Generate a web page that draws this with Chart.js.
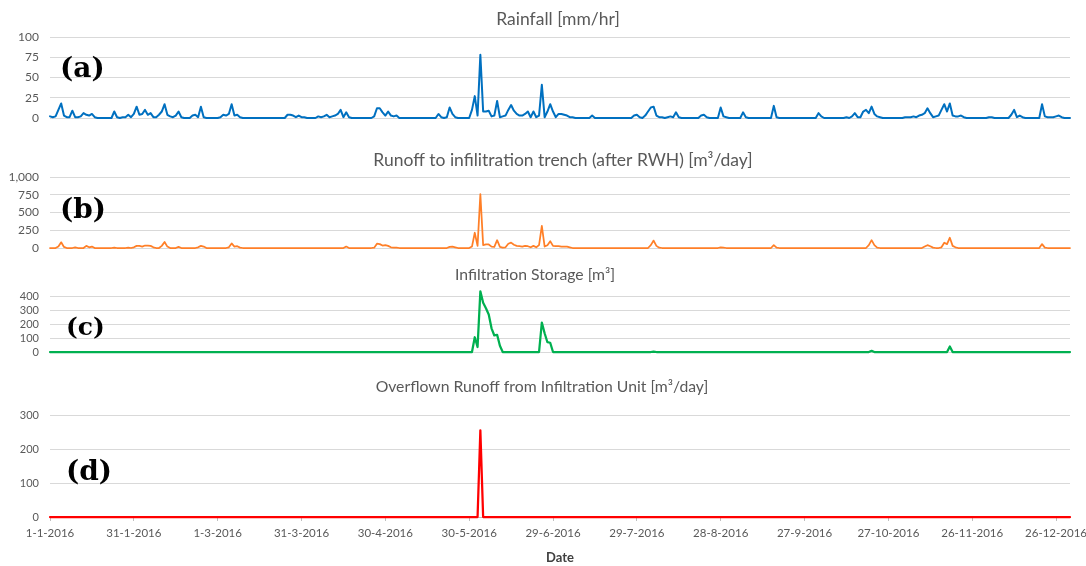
<!DOCTYPE html>
<html>
<head>
<meta charset="utf-8">
<title>Rainfall, runoff and infiltration storage 2016</title>
<script src="https://cdn.jsdelivr.net/npm/chart.js@4.4.1/dist/chart.umd.min.js"></script>
<style>
  html, body { margin: 0; padding: 0; background: #fff; }
  #wrap { position: relative; width: 1086px; height: 566px; overflow: hidden; background: #fff; }
  #wrap canvas { position: absolute; left: 0; }
</style>
</head>
<body>
<div id="wrap">
  <canvas id="panelA"></canvas>
  <canvas id="panelB"></canvas>
  <canvas id="panelC"></canvas>
  <canvas id="panelD"></canvas>
</div>
<script>
/* ===== data : one value per day, 1-1-2016 .. 31-12-2016 (366 days) ===== */

// (a) rainfall [mm/hr]
const rainfall = [
  2,1,2,10,18,3,1,1,9,1, 1,2,6,4,3,5,1,0,0,0, 0,0,0,8,1,0,1,1,4,1, 5,           // Jan
  14,4,5,10,4,6,1,1,4,8, 17,4,2,1,3,8,1,0,0,0, 3,4,1,14,1,0,0,0,0,             // Feb
  0,1,4,3,5,17,3,4,1,0, 0,0,0,0,0,0,0,0,0,0, 0,0,0,0,0,4,4,3,1,3, 1,           // Mar
  1,0,0,0,0,2,1,2,4,1, 2,3,5,10,1,7,1,0,0,0, 0,0,0,0,0,2,12,12,7,3,            // Apr
  8,3,2,3,0,0,0,0,0,0, 0,0,0,0,0,0,0,0,5,1, 0,1,13,5,1,0,0,0,0,0, 10,          // May
  27,3,78,8,8,9,2,3,21,1, 2,3,10,16,9,5,3,3,5,8, 1,8,1,3,41,1,8,17,8,1,        // Jun
  5,5,4,3,1,1,0,0,0,0, 0,0,3,0,0,0,0,0,0,0, 0,0,0,0,0,0,0,3,4,1, 0,            // Jul
  3,8,13,14,3,1,1,0,1,2, 1,7,1,0,0,0,0,0,0,0, 3,4,1,0,0,0,0,13,2,1, 0,         // Aug
  0,0,0,0,7,1,0,0,0,0, 0,0,0,0,0,15,1,0,0,0, 0,0,0,0,0,0,0,0,0,0,              // Sep
  0,6,2,0,0,0,0,0,0,0, 0,1,0,2,6,1,1,8,10,6, 14,5,2,1,0,0,0,0,0,0, 0,          // Oct
  0,1,1,1,2,1,3,4,6,12, 6,1,2,3,10,17,8,18,3,2, 2,3,1,0,0,0,0,0,0,0,           // Nov
  0,1,1,0,0,0,0,0,0,4, 10,1,3,1,0,0,0,0,0,0, 17,2,1,1,1,2,3,1,0,0, 0           // Dec
];

// (b) runoff to infiltration trench after RWH [m3/day]
const runoff = [
  0,0,0,20,80,15,0,0,0,10, 0,0,0,30,10,20,0,0,0,0, 0,0,0,5,0,0,0,0,5,0, 10,                     // Jan
  30,30,20,35,35,30,10,0,0,30, 85,20,0,0,0,15,0,0,0,0, 0,0,10,30,20,0,0,0,0,                    // Feb
  0,0,0,0,10,65,20,25,5,0, 0,0,0,0,0,0,0,0,0,0, 0,0,0,0,0,0,0,0,0,0, 0,                         // Mar
  0,0,0,0,0,0,0,0,0,0, 0,0,0,0,0,20,0,0,0,0, 0,0,0,0,0,5,60,55,35,40,                           // Apr
  30,10,5,5,0,0,0,0,0,0, 0,0,0,0,0,0,0,0,0,0, 0,0,15,20,10,0,0,0,0,0, 20,                       // May
  215,30,760,40,50,50,20,15,110,15, 5,10,60,75,45,30,25,20,30,25, 10,30,10,40,310,20,40,95,30,25, // Jun
  25,20,20,20,10,0,0,0,0,0, 0,0,0,0,0,0,0,0,0,0, 0,0,0,0,0,0,0,0,0,0, 0,                        // Jul
  0,0,40,105,30,5,0,0,0,0, 0,0,0,0,0,0,0,0,0,0, 0,0,0,0,0,0,0,10,5,0, 0,                        // Aug
  0,0,0,0,0,0,0,0,0,0, 0,0,0,0,0,40,5,0,0,0, 0,0,0,0,0,0,0,0,0,0,                               // Sep
  0,0,0,0,0,0,0,0,0,0, 0,0,0,0,0,0,0,0,0,40, 110,40,5,0,0,0,0,0,0,0, 0,                         // Oct
  0,0,0,0,0,0,0,0,20,40, 25,5,0,0,10,75,55,145,30,10, 0,0,0,0,0,0,0,0,0,0,                      // Nov
  0,0,0,0,0,0,0,0,0,0, 0,0,0,0,0,0,0,0,0,0, 55,5,0,0,0,0,0,0,0,0, 0                             // Dec
];

// (c) infiltration storage [m3]
const storage = [
  0,0,0,0,0,0,0,0,0,0, 0,0,0,0,0,0,0,0,0,0, 0,0,0,0,0,0,0,0,0,0, 0,                             // Jan
  0,0,0,0,0,0,0,0,0,0, 0,0,0,0,0,0,0,0,0,0, 0,0,0,0,0,0,0,0,0,                                  // Feb
  0,0,0,0,0,0,0,0,0,0, 0,0,0,0,0,0,0,0,0,0, 0,0,0,0,0,0,0,0,0,0, 0,                             // Mar
  0,0,0,0,0,0,0,0,0,0, 0,0,0,0,0,0,0,0,0,0, 0,0,0,0,0,0,0,0,0,0,                                // Apr
  0,0,0,0,0,0,0,0,0,0, 0,0,0,0,0,0,0,0,0,0, 0,0,0,0,0,0,0,0,0,0, 0,                             // May
  107,36,440,357,318,272,172,120,125,45, 0,0,0,0,0,0,0,0,0,0, 0,0,0,0,214,136,71,67,0,0,        // Jun
  0,0,0,0,0,0,0,0,0,0, 0,0,0,0,0,0,0,0,0,0, 0,0,0,0,0,0,0,0,0,0, 0,                             // Jul
  0,0,0,3,0,0,0,0,0,0, 0,0,0,0,0,0,0,0,0,0, 0,0,0,0,0,0,0,0,0,0, 0,                             // Aug
  0,0,0,0,0,0,0,0,0,0, 0,0,0,0,0,0,0,0,0,0, 0,0,0,0,0,0,0,0,0,0,                                // Sep
  0,0,0,0,0,0,0,0,0,0, 0,0,0,0,0,0,0,0,0,0, 8,0,0,0,0,0,0,0,0,0, 0,                             // Oct
  0,0,0,0,0,0,0,0,0,0, 0,0,0,0,0,0,0,40,0,0, 0,0,0,0,0,0,0,0,0,0,                               // Nov
  0,0,0,0,0,0,0,0,0,0, 0,0,0,0,0,0,0,0,0,0, 0,0,0,0,0,0,0,0,0,0, 0                              // Dec
];

// (d) overflown runoff from infiltration unit [m3/day]
const overflow = [
  0,0,0,0,0,0,0,0,0,0, 0,0,0,0,0,0,0,0,0,0, 0,0,0,0,0,0,0,0,0,0, 0,                             // Jan
  0,0,0,0,0,0,0,0,0,0, 0,0,0,0,0,0,0,0,0,0, 0,0,0,0,0,0,0,0,0,                                  // Feb
  0,0,0,0,0,0,0,0,0,0, 0,0,0,0,0,0,0,0,0,0, 0,0,0,0,0,0,0,0,0,0, 0,                             // Mar
  0,0,0,0,0,0,0,0,0,0, 0,0,0,0,0,0,0,0,0,0, 0,0,0,0,0,0,0,0,0,0,                                // Apr
  0,0,0,0,0,0,0,0,0,0, 0,0,0,0,0,0,0,0,0,0, 0,0,0,0,0,0,0,0,0,0, 0,                             // May
  0,0,255,0,0,0,0,0,0,0, 0,0,0,0,0,0,0,0,0,0, 0,0,0,0,0,0,0,0,0,0,                              // Jun
  0,0,0,0,0,0,0,0,0,0, 0,0,0,0,0,0,0,0,0,0, 0,0,0,0,0,0,0,0,0,0, 0,                             // Jul
  0,0,0,0,0,0,0,0,0,0, 0,0,0,0,0,0,0,0,0,0, 0,0,0,0,0,0,0,0,0,0, 0,                             // Aug
  0,0,0,0,0,0,0,0,0,0, 0,0,0,0,0,0,0,0,0,0, 0,0,0,0,0,0,0,0,0,0,                                // Sep
  0,0,0,0,0,0,0,0,0,0, 0,0,0,0,0,0,0,0,0,0, 0,0,0,0,0,0,0,0,0,0, 0,                             // Oct
  0,0,0,0,0,0,0,0,0,0, 0,0,0,0,0,0,0,0,0,0, 0,0,0,0,0,0,0,0,0,0,                                // Nov
  0,0,0,0,0,0,0,0,0,0, 0,0,0,0,0,0,0,0,0,0, 0,0,0,0,0,0,0,0,0,0, 0                              // Dec
];

// x categories: every day of 2016 as d-m-yyyy, a label shown every 30 days
const dates = [];
for (let d = new Date(2016, 0, 1); d.getFullYear() === 2016; d.setDate(d.getDate() + 1)) {
  dates.push(d.getDate() + '-' + (d.getMonth() + 1) + '-' + d.getFullYear());
}
const tickEvery = 30;

/* ===== layout ===== */
const PAGE_W = 1086;
const PLOT_LEFT = 50;    // left edge of every plot area
const PLOT_RIGHT = 1070; // right edge of every plot area

// panel title + (a)/(b)... letter
const panelText = {
  id: 'panelText',
  afterDraw(chart, args, o) {
    const ctx = chart.ctx;
    ctx.save();
    ctx.textBaseline = 'alphabetic';
    ctx.textAlign = 'center';
    ctx.fillStyle = '#595959';
    ctx.font = o.titleSize + 'px Lato';
    ctx.fillText(o.title, o.titleX, o.titleY);
    ctx.textAlign = 'left';
    ctx.fillStyle = '#000';
    ctx.font = 'bold ' + o.letterSize + 'px "DejaVu Serif"';
    ctx.fillText(o.letter, o.letterX, o.letterY);
    ctx.restore();
  }
};

function makePanel(cfg) {
  const canvas = document.getElementById(cfg.id);
  canvas.width = PAGE_W;
  canvas.height = cfg.height;
  canvas.style.top = cfg.top + 'px';
  const showX = !!cfg.xTitle;

  return new Chart(canvas, {
    type: 'line',
    data: {
      labels: dates,
      datasets: [{
        data: cfg.values,
        borderColor: cfg.color,
        borderWidth: cfg.lineWidth,
        borderJoinStyle: 'round',
        borderCapStyle: 'round',
        pointRadius: 0,
        tension: 0,
        fill: false,
        clip: 6   // keep the full stroke of the zero line visible
      }]
    },
    options: {
      responsive: false,
      animation: false,
      devicePixelRatio: 1,
      layout: { padding: { top: cfg.padTop, bottom: cfg.padBottom, left: 0, right: PAGE_W - PLOT_RIGHT } },
      plugins: {
        legend: { display: false },
        tooltip: { enabled: false },
        panelText: cfg.text
      },
      scales: {
        x: {
          type: 'category',
          display: showX,
          offset: false,
          grid: {
            drawOnChartArea: false,
            drawTicks: true,
            tickLength: 4,
            color: c => (c.index % tickEvery === 0 ? '#BFBFBF' : 'rgba(0,0,0,0)')
          },
          border: { display: true, color: '#BFBFBF' },
          ticks: {
            autoSkip: false,
            maxRotation: 0,
            minRotation: 0,
            padding: 5,
            color: '#595959',
            font: { family: 'Lato', size: 11.5 },
            callback: function (v, i) { return i % tickEvery === 0 ? this.getLabelForValue(v) : ''; }
          },
          title: {
            display: showX,
            text: cfg.xTitle,
            color: '#404040',
            font: { family: 'Lato', size: 13, weight: 'bold' },
            padding: 0
          },
          afterFit: s => { if (showX) s.height = cfg.xHeight; }
        },
        y: {
          min: 0,
          max: cfg.yMax,
          bounds: 'data',
          grid: { color: '#D9D9D9', drawTicks: false },
          border: { display: false },
          ticks: {
            stepSize: cfg.yStep,
            autoSkip: false,
            padding: 11,
            color: '#595959',
            font: { family: 'Lato', size: cfg.yFont },
            callback: v => v.toLocaleString('en-US')
          },
          // only whole steps get a label and a gridline (storage panel tops out above 400)
          afterBuildTicks: s => { s.ticks = s.ticks.filter(t => t.value % cfg.yStep === 0); },
          // fixed axis width so all four plots line up; plot height set by layout padding only
          afterFit: s => { s.width = PLOT_LEFT; s.paddingTop = 0; s.paddingBottom = 0; }
        }
      }
    },
    plugins: [panelText]
  });
}

makePanel({
  id: 'panelA', top: 0, height: 132, padTop: 37, padBottom: 14,
  values: rainfall, color: '#0070C0', lineWidth: 2,
  yMax: 100, yStep: 25, yFont: 12,
  text: { title: 'Rainfall [mm/hr]', titleSize: 17.5, titleX: 558, titleY: 25,
          letter: '(a)', letterSize: 28, letterX: 60, letterY: 77 }
});

makePanel({
  id: 'panelB', top: 132, height: 126, padTop: 45, padBottom: 10,
  values: runoff, color: '#FF7F27', lineWidth: 1.75,
  yMax: 1000, yStep: 250, yFont: 12,
  text: { title: 'Runoff to infilitration trench (after RWH) [m³/day]', titleSize: 17.5, titleX: 563, titleY: 34,
          letter: '(b)', letterSize: 28, letterX: 60, letterY: 86 }
});

makePanel({
  id: 'panelC', top: 258, height: 108, padTop: 32, padBottom: 14,
  values: storage, color: '#00B050', lineWidth: 2.25,
  yMax: 450, yStep: 100, yFont: 11,
  text: { title: 'Infiltration Storage [m³]', titleSize: 15.75, titleX: 535, titleY: 22,
          letter: '(c)', letterSize: 25, letterX: 66, letterY: 77 }
});

makePanel({
  id: 'panelD', top: 366, height: 200, padTop: 49, padBottom: 0, xHeight: 49,
  values: overflow, color: '#FF0000', lineWidth: 2.25,
  yMax: 300, yStep: 100, yFont: 11, xTitle: 'Date',
  text: { title: 'Overflown Runoff from Infiltration Unit [m³/day]', titleSize: 15.75, titleX: 542, titleY: 26,
          letter: '(d)', letterSize: 28, letterX: 66, letterY: 114 }
});
</script>
</body>
</html>
